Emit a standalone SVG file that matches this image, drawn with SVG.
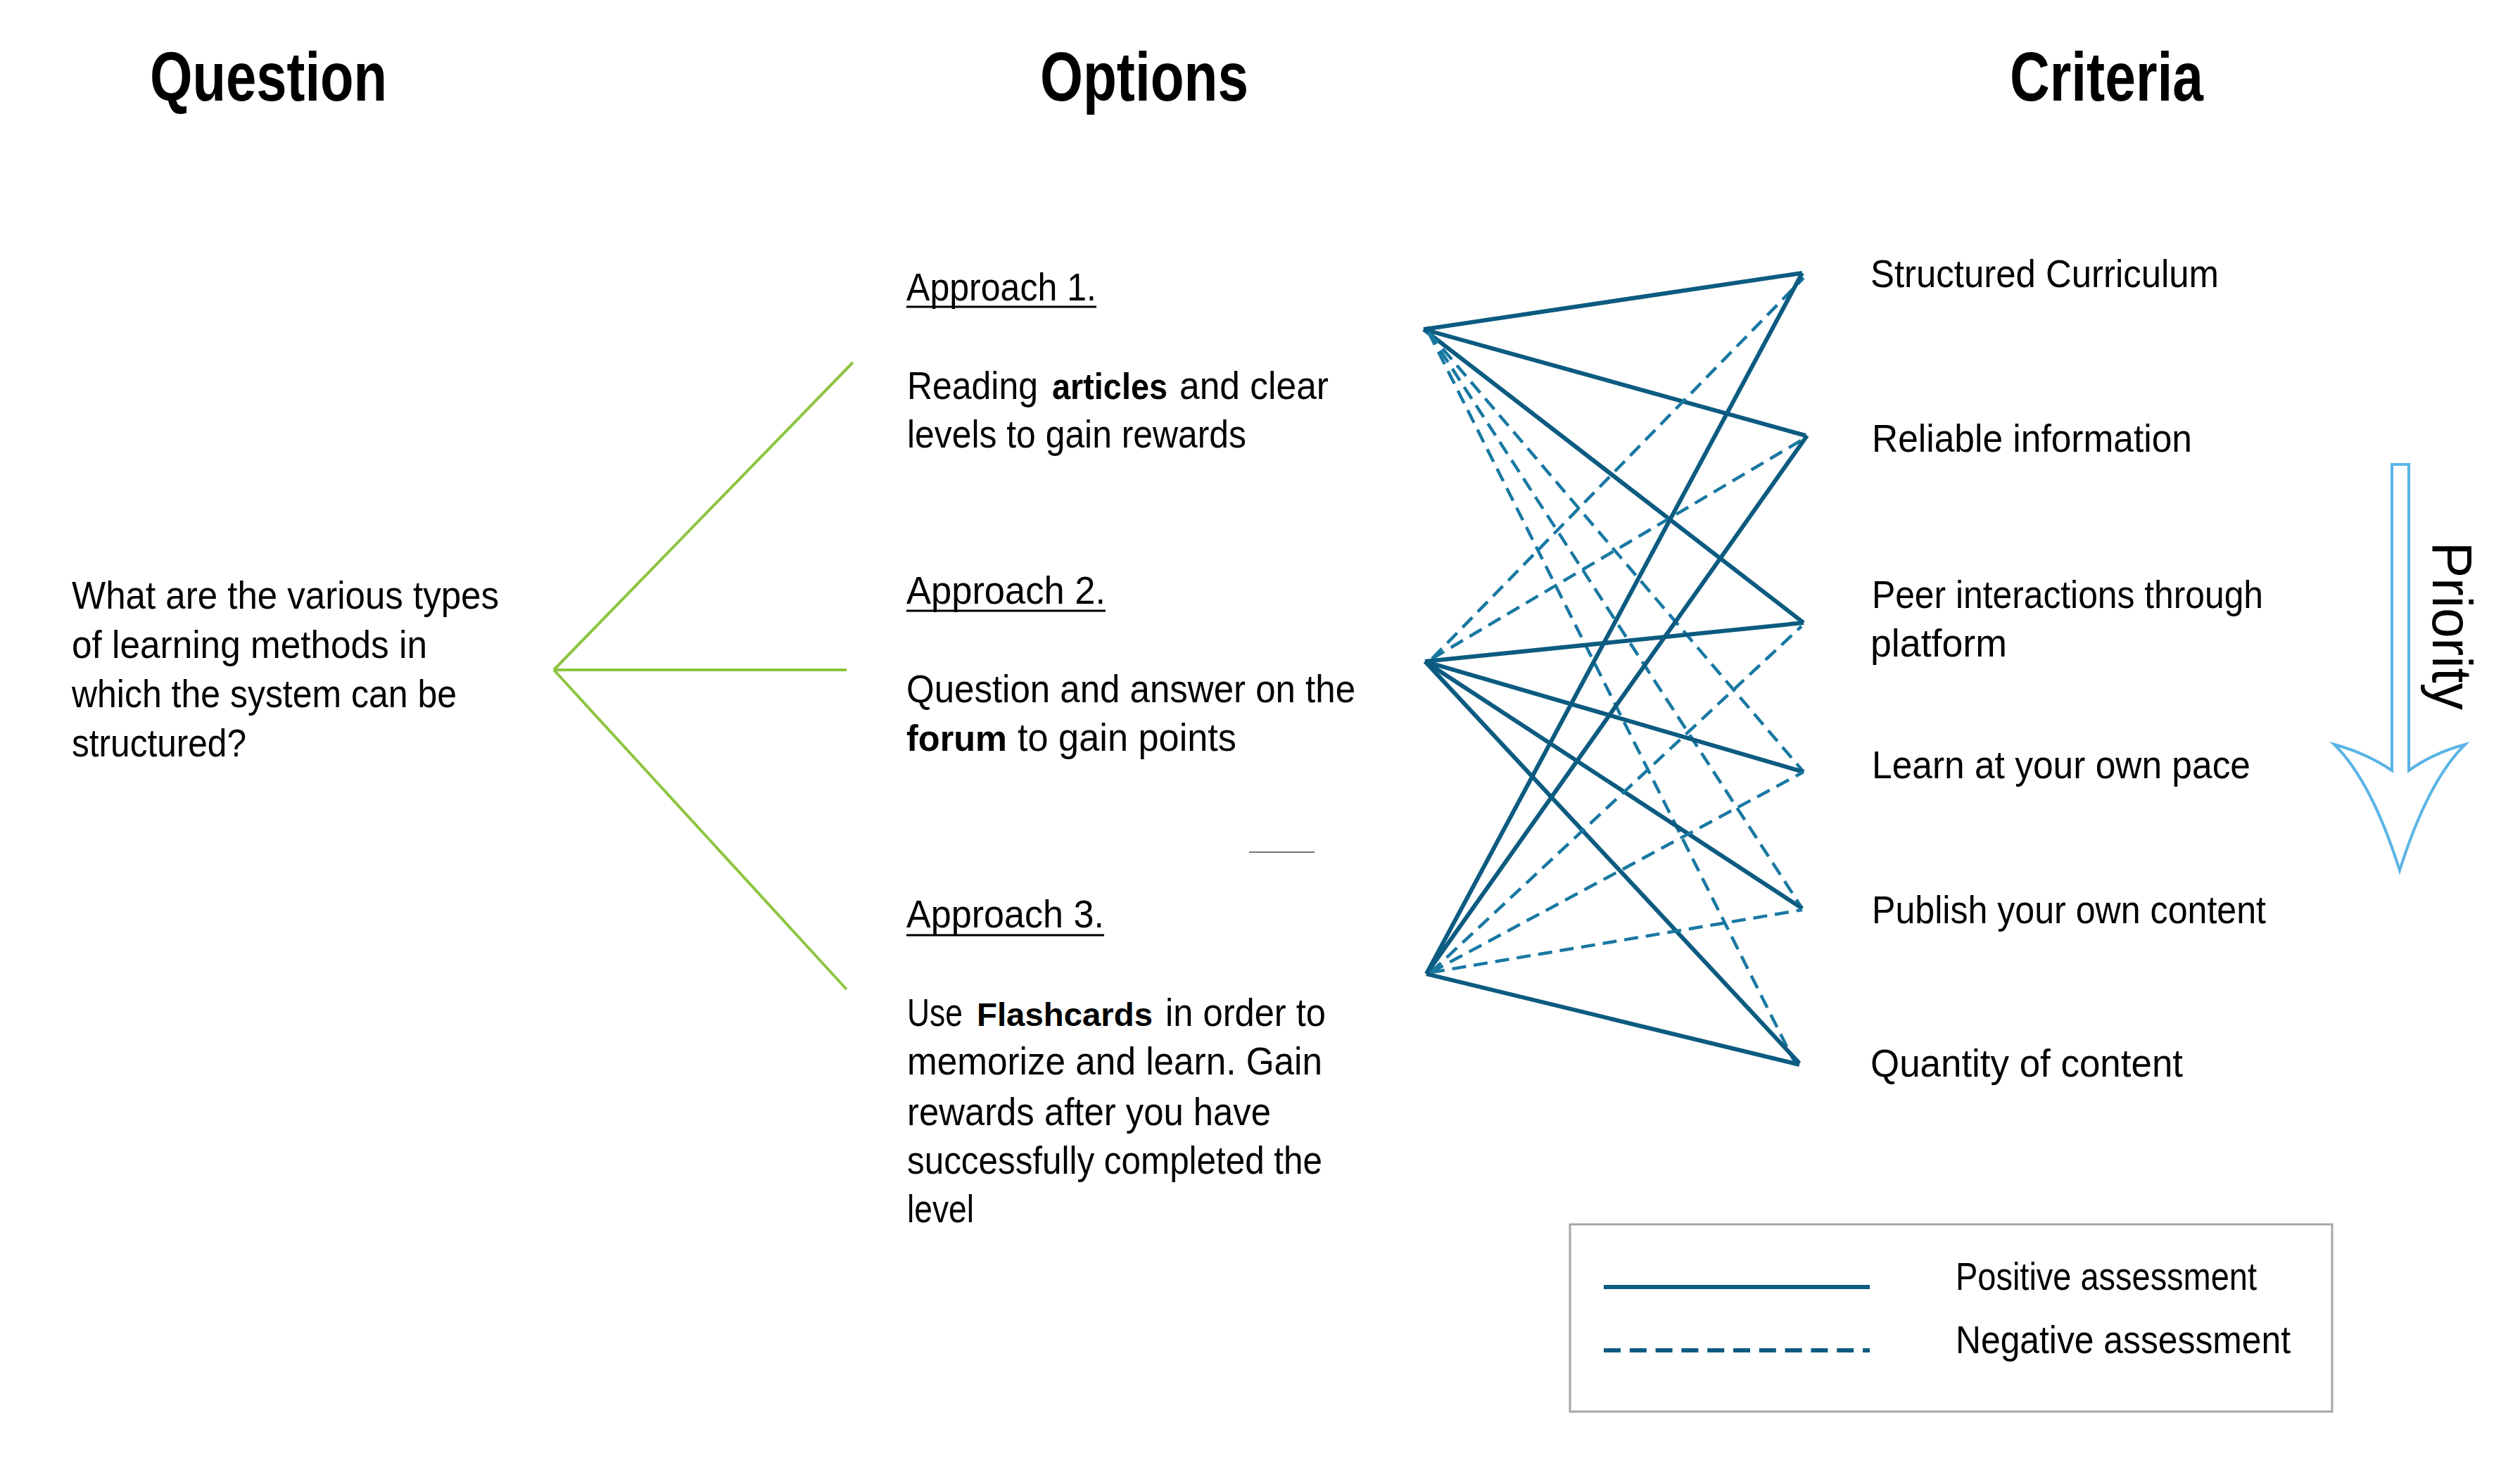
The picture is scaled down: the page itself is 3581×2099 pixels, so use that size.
<svg xmlns="http://www.w3.org/2000/svg" width="3581" height="2099" viewBox="0 0 3581 2099">
<style>
.hdr{font-family:"Liberation Sans",Arial,sans-serif;font-weight:bold;font-size:98px;fill:#000}
.txt{font-family:"Liberation Sans",Arial,sans-serif;font-size:56px;fill:#000}
.b{font-weight:bold;font-size:52px}
.pos{stroke:#0c5b80;stroke-width:6;fill:none;stroke-linecap:butt}
.neg{stroke:#1878a2;stroke-width:4.5;fill:none;stroke-dasharray:20 11}
.green{stroke:#8cc540;stroke-width:4;fill:none}
.ul{stroke:#000;stroke-width:3}
</style>
<rect width="3581" height="2099" fill="#fff"/>

<g id="headers">
<text class="hdr" x="213" y="143" textLength="337" lengthAdjust="spacingAndGlyphs">Question</text>
<text class="hdr" x="1478" y="143" textLength="296" lengthAdjust="spacingAndGlyphs">Options</text>
<text class="hdr" x="2856" y="143" textLength="275" lengthAdjust="spacingAndGlyphs">Criteria</text>
</g>

<g id="question">
<text class="txt" x="102" y="865" textLength="607" lengthAdjust="spacingAndGlyphs">What are the various types</text>
<text class="txt" x="102" y="935" textLength="505" lengthAdjust="spacingAndGlyphs">of learning methods in</text>
<text class="txt" x="102" y="1005" textLength="547" lengthAdjust="spacingAndGlyphs">which the system can be</text>
<text class="txt" x="102" y="1075" textLength="248" lengthAdjust="spacingAndGlyphs">structured?</text>
</g>

<g id="branches">
<line class="green" x1="787" y1="952" x2="1212" y2="515"/>
<line class="green" x1="787" y1="952" x2="1203" y2="952"/>
<line class="green" x1="787" y1="952" x2="1203" y2="1406"/>
</g>

<g id="approach1">
<text class="txt" x="1288" y="427" textLength="270" lengthAdjust="spacingAndGlyphs">Approach 1.</text>
<line class="ul" x1="1288" y1="436" x2="1558" y2="436"/>
<text class="txt" x="1289" y="567" textLength="186" lengthAdjust="spacingAndGlyphs">Reading</text>
<text class="txt b" x="1495" y="567" textLength="164" lengthAdjust="spacingAndGlyphs">articles</text>
<text class="txt" x="1676" y="567" textLength="212" lengthAdjust="spacingAndGlyphs">and clear</text>
<text class="txt" x="1289" y="636" textLength="482" lengthAdjust="spacingAndGlyphs">levels to gain rewards</text>
</g>

<g id="approach2">
<text class="txt" x="1288" y="858" textLength="283" lengthAdjust="spacingAndGlyphs">Approach 2.</text>
<line class="ul" x1="1288" y1="868" x2="1571" y2="868"/>
<text class="txt" x="1288" y="998" textLength="638" lengthAdjust="spacingAndGlyphs">Question and answer on the</text>
<text class="txt b" x="1288" y="1067" textLength="143" lengthAdjust="spacingAndGlyphs">forum</text>
<text class="txt" x="1446" y="1067" textLength="311" lengthAdjust="spacingAndGlyphs">to gain points</text>
</g>

<line id="stray" x1="1775" y1="1211" x2="1868" y2="1211" stroke="#777" stroke-width="2"/>

<g id="approach3">
<text class="txt" x="1288" y="1318" textLength="281" lengthAdjust="spacingAndGlyphs">Approach 3.</text>
<line class="ul" x1="1288" y1="1329" x2="1569" y2="1329"/>
<text class="txt" x="1289" y="1458" textLength="79" lengthAdjust="spacingAndGlyphs">Use</text>
<text class="txt b" x="1388" y="1458" textLength="250" lengthAdjust="spacingAndGlyphs" style="font-size:46px">Flashcards</text>
<text class="txt" x="1656" y="1458" textLength="228" lengthAdjust="spacingAndGlyphs">in order to</text>
<text class="txt" x="1289" y="1527" textLength="590" lengthAdjust="spacingAndGlyphs">memorize and learn. Gain</text>
<text class="txt" x="1289" y="1599" textLength="517" lengthAdjust="spacingAndGlyphs">rewards after you have</text>
<text class="txt" x="1289" y="1668" textLength="590" lengthAdjust="spacingAndGlyphs">successfully completed the</text>
<text class="txt" x="1289" y="1737" textLength="95" lengthAdjust="spacingAndGlyphs">level</text>
</g>

<g id="connectors">
<!-- from Approach 1 -->
<line class="pos" x1="2023" y1="468" x2="2561" y2="388"/>
<line class="pos" x1="2023" y1="468" x2="2566" y2="619"/>
<line class="pos" x1="2023" y1="468" x2="2563" y2="885"/>
<line class="neg" x1="2030" y1="472" x2="2563" y2="1097"/>
<line class="neg" x1="2030" y1="472" x2="2561" y2="1291"/>
<line class="neg" x1="2030" y1="472" x2="2551" y2="1511"/>
<!-- from Approach 2 -->
<line class="neg" x1="2035" y1="936" x2="2563" y2="395"/>
<line class="neg" x1="2035" y1="936" x2="2566" y2="622"/>
<line class="pos" x1="2025" y1="940" x2="2563" y2="885"/>
<line class="pos" x1="2025" y1="940" x2="2563" y2="1097"/>
<line class="pos" x1="2025" y1="940" x2="2561" y2="1291"/>
<line class="pos" x1="2025" y1="940" x2="2557" y2="1511"/>
<!-- from Approach 3 -->
<line class="pos" x1="2027" y1="1384" x2="2561" y2="388"/>
<line class="pos" x1="2027" y1="1384" x2="2568" y2="619"/>
<line class="neg" x1="2033" y1="1382" x2="2560" y2="890"/>
<line class="neg" x1="2033" y1="1382" x2="2563" y2="1097"/>
<line class="neg" x1="2033" y1="1382" x2="2561" y2="1293"/>
<line class="pos" x1="2027" y1="1384" x2="2557" y2="1513"/>
</g>

<g id="criteria">
<text class="txt" x="2658" y="408" textLength="495" lengthAdjust="spacingAndGlyphs">Structured Curriculum</text>
<text class="txt" x="2660" y="642" textLength="455" lengthAdjust="spacingAndGlyphs">Reliable information</text>
<text class="txt" x="2660" y="864" textLength="556" lengthAdjust="spacingAndGlyphs">Peer interactions through</text>
<text class="txt" x="2658" y="933" textLength="194" lengthAdjust="spacingAndGlyphs">platform</text>
<text class="txt" x="2660" y="1106" textLength="538" lengthAdjust="spacingAndGlyphs">Learn at your own pace</text>
<text class="txt" x="2660" y="1312" textLength="560" lengthAdjust="spacingAndGlyphs">Publish your own content</text>
<text class="txt" x="2658" y="1530" textLength="444" lengthAdjust="spacingAndGlyphs">Quantity of content</text>
</g>

<g id="priority">
<path d="M3399 660 L3399 1095 Q3362 1070 3317 1058 Q3370 1110 3410 1237 Q3450 1110 3503 1058 Q3458 1070 3423 1095 L3423 660 Z" fill="#fff" stroke="#5ab4e5" stroke-width="4" stroke-linejoin="miter"/>
<text class="txt" x="3457" y="770" textLength="239" lengthAdjust="spacingAndGlyphs" transform="rotate(90 3457 770)" style="font-size:80px">Priority</text>
</g>

<g id="legend">
<rect x="2231" y="1740" width="1083" height="266" fill="none" stroke="#a6a6a6" stroke-width="3"/>
<line x1="2279" y1="1829" x2="2657" y2="1829" stroke="#0c5b80" stroke-width="6"/>
<line x1="2279" y1="1919" x2="2657" y2="1919" stroke="#0c5b80" stroke-width="6" stroke-dasharray="24 12.8"/>
<text class="txt" x="2779" y="1833" textLength="428" lengthAdjust="spacingAndGlyphs">Positive assessment</text>
<text class="txt" x="2779" y="1923" textLength="476" lengthAdjust="spacingAndGlyphs">Negative assessment</text>
</g>
</svg>
